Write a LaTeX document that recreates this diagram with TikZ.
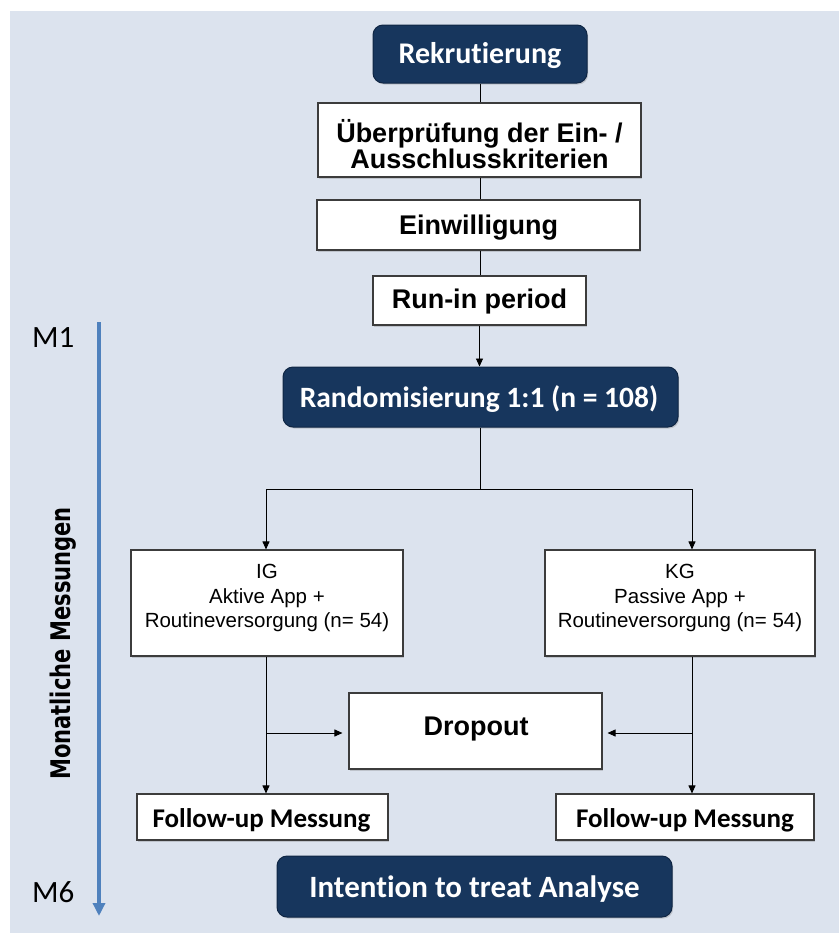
\documentclass[tikz,border=0pt]{standalone}
\usepackage{fontspec}
\setmainfont{Liberation Sans}
\newfontfamily\calib[Ligatures={NoCommon,NoRare,NoDiscretionary}]{Carlito}
\newfontfamily\calibos[Ligatures={NoCommon,NoRare,NoDiscretionary}]{Carlito}
\newfontfamily\verdn[FakeStretch=0.78]{DejaVu Sans}
\usetikzlibrary{arrows.meta,shadows}
\definecolor{navy}{RGB}{23,54,93}
\definecolor{navyline}{RGB}{15,38,68}
\definecolor{bgblue}{RGB}{220,227,238}
\definecolor{arrowblue}{RGB}{79,129,189}
\definecolor{boxline}{RGB}{60,60,60}
\begin{document}
\begin{tikzpicture}[x=1pt,y=-1pt,
  whitebox/.style={draw=boxline, line width=1.1pt, fill=white, inner sep=0pt,
    drop shadow={shadow xshift=1.2pt, shadow yshift=-1.5pt, opacity=0.25, fill=black!60}},
  darkbox/.style={draw=navyline, line width=1pt, fill=navy, rounded corners=10pt, inner sep=0pt,
    drop shadow={shadow xshift=1.2pt, shadow yshift=-1.5pt, opacity=0.25, fill=black!60}},
  arialb/.style={inner sep=0pt, align=center, text=black, font=\bfseries\fontsize{27}{25}\selectfont},
  arialr/.style={inner sep=0pt, align=center, text=black, font=\fontsize{20.5}{24.5}\selectfont},
  calw/.style={inner sep=0pt, text=white, font=\calib\bfseries\fontsize{30}{30}\selectfont},
  calk/.style={inner sep=0pt, text=black, font=\calib\bfseries\fontsize{27}{27}\selectfont},
  conn/.style={draw=black, line width=0.9pt},
  arr/.style={conn, -{Triangle[length=8pt,width=7pt]}},
]
\useasboundingbox (0,0) rectangle (839,935);
\fill[bgblue] (10,11) rectangle (839,933);

% left timeline
\coordinate (btop) at (99,322);
\coordinate (bbot) at (99,916);
\draw[arrowblue, line width=4pt, -{Triangle[length=13pt,width=12pt]}] (btop) -- (bbot);
\node[anchor=base west, inner sep=0pt, font=\calib\fontsize{31}{31}\selectfont] (m1) at (32,347) {M1};
\node[anchor=base west, inner sep=0pt, font=\calib\fontsize{31}{31}\selectfont] (m6) at (32,902) {M6};
\node[anchor=base, rotate=90, inner sep=0pt, font=\verdn\bfseries\fontsize{27}{27}\selectfont] (mon) at (70,643.5) {Monatliche Messungen};

% boxes
\node[darkbox, minimum width=214pt, minimum height=58pt] (rek) at (480,54) {};
\node[calw, anchor=base] (rekT) at (480,63.3) {Rekrutierung};

\node[whitebox, minimum width=323pt, minimum height=74pt] (ueb) at (479.5,140) {};
\node[arialb] (uebT) at (479.5,144) {Überprüfung der Ein- /\\Ausschlusskriterien};

\node[whitebox, minimum width=323pt, minimum height=50pt] (ein) at (478.5,225) {};
\node[arialb, anchor=base] (einT) at (478.5,234) {Einwilligung};

\node[whitebox, minimum width=213pt, minimum height=49pt] (run) at (479.5,300.5) {};
\node[arialb, anchor=base] (runT) at (479.5,308.5) {Run-in period};

\node[darkbox, minimum width=395pt, minimum height=60pt] (rand) at (480.5,397) {};
\node[calw, anchor=base, font=\calibos\bfseries\fontsize{29.5}{30}\selectfont] (randT) at (479,407) {Randomisierung 1:1 (n = 108)};

\node[whitebox, minimum width=272pt, minimum height=106pt] (ig) at (267,603) {};
\node[arialr] (igT) at (267,598) {IG\\Aktive App +\\Routineversorgung (n= 54)};

\node[whitebox, minimum width=270pt, minimum height=106pt] (kg) at (680,603) {};
\node[arialr] (kgT) at (680,598) {KG\\Passive App +\\Routineversorgung (n= 54)};

\node[whitebox, minimum width=253pt, minimum height=76pt] (drop) at (475.5,731) {};
\node[arialb, anchor=base] (dropT) at (476,735) {Dropout};

\node[whitebox, minimum width=251pt, minimum height=46pt] (ful) at (262.5,817) {};
\node[calk, anchor=base] (fulT) at (261.5,827) {Follow-up Messung};

\node[whitebox, minimum width=258pt, minimum height=46pt] (fur) at (685,817) {};
\node[calk, anchor=base] (furT) at (685,827) {Follow-up Messung};

\node[darkbox, minimum width=395pt, minimum height=61pt] (itt) at (474.5,886.5) {};
\node[calw, anchor=base, font=\calib\bfseries\fontsize{31}{31}\selectfont] (ittT) at (474.5,897) {Intention to treat Analyse};

% connectors
\draw[conn] (rek.south) -- (rek.south |- ueb.north);
\draw[conn] (ueb.south -| rek.south) -- (rek.south |- ein.north);
\draw[conn] (ein.south -| rek.south) -- (rek.south |- run.north);
\draw[arr] (run.south) -- (run.south |- rand.north);

\coordinate (br) at (480,489);
\coordinate (brL) at (266,489);
\coordinate (brR) at (692,489);
\draw[conn] (rand.south -| br) -- (br);
\draw[conn] (brL) -- (brR);
\draw[arr] (brL) -- (brL |- ig.north);
\draw[arr] (brR) -- (brR |- kg.north);

\draw[arr] (ig.south -| brL) -- (brL |- ful.north);
\draw[arr] (kg.south -| brR) -- (brR |- fur.north);

\coordinate (dl) at (266,733);
\coordinate (dr) at (692,733);
\draw[arr, shorten >=6pt] (dl) -- (drop.west |- dl);
\draw[arr, shorten >=5pt] (dr) -- (drop.east |- dr);
\end{tikzpicture}
\end{document}
